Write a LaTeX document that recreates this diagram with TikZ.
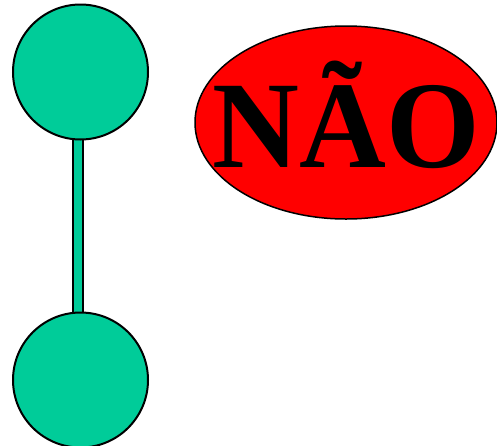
\documentclass[tikz,border=0pt]{standalone}
\usepackage{fontspec}
\setmainfont{Liberation Serif}
\usetikzlibrary{shapes.geometric,backgrounds}
\definecolor{bolaverde}{HTML}{00CC99}
\tikzset{
  bola/.style={circle, draw=black, fill=bolaverde, line width=2pt, minimum size=135pt, inner sep=0pt},
  haste/.style={draw=black, line width=2pt, double=bolaverde, double distance=8pt},
  placa/.style={ellipse, draw=black, fill=red, line width=1.5pt, minimum width=302pt, minimum height=193pt, inner sep=0pt},
}

\begin{document}
\begin{tikzpicture}[x=1pt,y=-1pt]
  \useasboundingbox (0,0) rectangle (497,445);
  \node[bola] (cima) at (80.5,72) {};
  \node[bola] (baixo) at (80.5,380) {};
  \begin{scope}[on background layer]
    \draw[haste] ([xshift=-2.5pt]cima.center) -- ([xshift=-2.5pt]baixo.center);
  \end{scope}
  \node[placa] (nao) at (346,122.5) {};
  \node[font=\fontsize{124}{124}\selectfont\bfseries, anchor=base, xscale=0.97, inner sep=0pt] (texto) at (346,167) {NÃO};
\end{tikzpicture}
\end{document}
